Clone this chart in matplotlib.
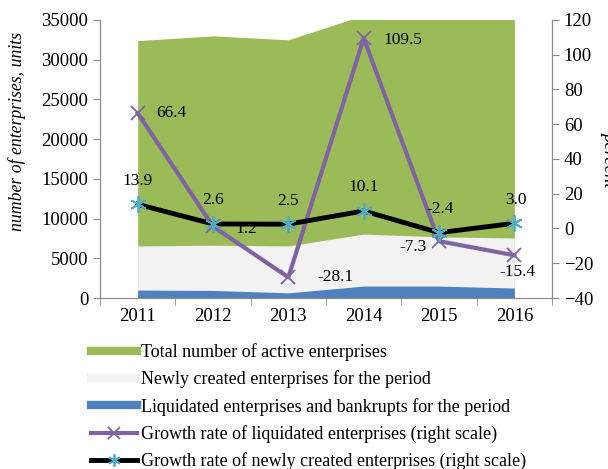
import numpy as np
import matplotlib.pyplot as plt
from matplotlib.lines import Line2D

plt.rcParams['font.family'] = ['Liberation Serif', 'DejaVu Serif']
plt.rcParams['font.size'] = 13.5

# =========================
# DATA
# =========================
years = ['2011', '2012', '2013', '2014', '2015', '2016']
total_active = [32400, 33000, 32500, 35600, 36200, 36800]
newly_created = [6550, 6650, 6550, 8050, 7700, 7550]
liquidated = [1000, 950, 650, 1500, 1500, 1250]
growth_liquidated = [66.4, 1.2, -28.1, 109.5, -7.3, -15.4]
growth_new = [13.9, 2.6, 2.5, 10.1, -2.4, 3.0]

# label offsets (points) for each data label
liq_offsets = [(24, 0), (24, -2), (34, 0), (28, -1), (-19, -4), (2, -12)]
new_offsets = [(0, 17), (0, 17), (0, 17), (0, 17), (1, 17), (1, 17)]

GREEN = '#9BBB59'
GRAY = '#F2F2F2'
BLUE = '#4F81BD'
PURPLE = '#8064A2'
CYAN = '#4BACC6'
SPINE = '#8C8C8C'

fig = plt.figure(figsize=(6.08, 4.69), dpi=100)
ax = fig.add_axes([0.1645, 0.3646, 0.7435, 0.5928])
x = np.arange(len(years))

ax.fill_between(x, total_active, color=GREEN, lw=0, zorder=1)
ax.fill_between(x, newly_created, color=GRAY, lw=0, zorder=2)
ax.fill_between(x, liquidated, color=BLUE, lw=0, zorder=3)

ax.set_xlim(-0.5, len(years) - 0.5)
ax.set_ylim(0, 35000)
ax.set_yticks(range(0, 35001, 5000))
ax.set_xticks(x)
ax.set_xticklabels(years)
ax.set_xticks(np.arange(-0.5, len(years)), minor=True)
ax.tick_params(axis='x', which='major', length=0, pad=7)
ax.tick_params(axis='x', which='minor', length=5, color=SPINE)
ax.tick_params(axis='y', length=5, color=SPINE)
ax.set_ylabel('number of enterprises, units', style='italic', fontsize=12.8)
ax.yaxis.set_label_coords(-0.164, 0.6)

ax.spines['top'].set_visible(False)
for s in ['left', 'bottom', 'right']:
    ax.spines[s].set_color(SPINE)

ax2 = ax.twinx()
ax2.set_ylim(-40, 120)
ax2.set_yticks(range(-40, 121, 20))
ax2.tick_params(axis='y', length=5, color=SPINE)
ax2.spines['top'].set_visible(False)
for s in ['left', 'bottom', 'right']:
    ax2.spines[s].set_color(SPINE)
ax2.set_ylabel('percent', style='italic', rotation=270, labelpad=18)

ax2.plot(x, growth_liquidated, color=PURPLE, lw=3, marker='x', ms=10,
         mew=1.3, zorder=4)
ax2.plot(x, growth_new, color='black', lw=3.5, marker=(6, 2, 0), ms=12,
         mec=CYAN, mew=1.3, zorder=5)

for xi, v, off in zip(x, growth_liquidated, liq_offsets):
    ax2.annotate(f'{v:.1f}', (xi, v), xytext=off, textcoords='offset points',
                 ha='center', va='center', fontsize=12.5, zorder=6)
for xi, v, off in zip(x, growth_new, new_offsets):
    ax2.annotate(f'{v:.1f}', (xi, v), xytext=off, textcoords='offset points',
                 ha='center', va='center', fontsize=12.5, zorder=6)

handles = [
    Line2D([], [], color=GREEN, lw=6),
    Line2D([], [], color=GRAY, lw=6),
    Line2D([], [], color=BLUE, lw=6),
    Line2D([], [], color=PURPLE, lw=3, marker='x', ms=8, mew=1.3),
    Line2D([], [], color='black', lw=3.5, marker=(6, 2, 0), ms=9,
           mec=CYAN, mew=1.3),
]
labels = [
    'Total number of active enterprises',
    'Newly created enterprises for the period',
    'Liquidated enterprises and bankrupts for the period',
    'Growth rate of liquidated enterprises (right scale)',
    'Growth rate of newly created enterprises (right scale)',
]
fig.legend(handles, labels, loc='upper left', bbox_to_anchor=(0.149, 0.268),
           frameon=False, handlelength=2.55, handletextpad=0.25,
           labelspacing=0.52, borderaxespad=0, borderpad=0, fontsize=13)

fig.savefig('out.png', dpi=100)
